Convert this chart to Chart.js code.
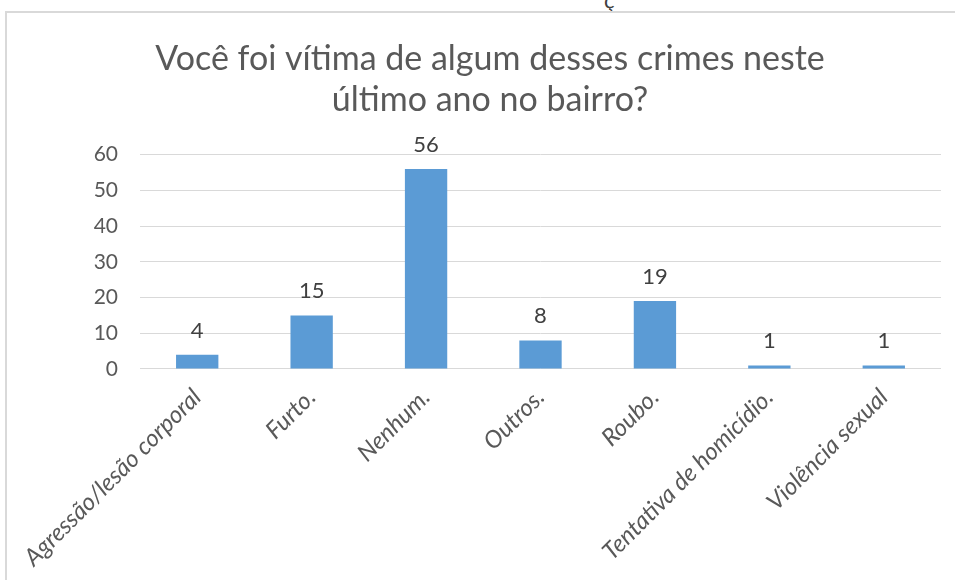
<!DOCTYPE html>
<html>
<head>
<meta charset="utf-8">
<script src="https://cdn.jsdelivr.net/npm/chart.js@4"></script>
<style>
    html, body { margin: 0; padding: 0; background: #fff; overflow: hidden; width: 955px; height: 580px; }
    #frame { position: absolute; left: 5px; top: 11px; width: 975px; height: 600px; border: 2px solid #d9d9d9; box-sizing: border-box; }
    #wrap { position: absolute; left: 7px; top: 13px; width: 970px; height: 567px; }
    #cut { position: absolute; left: 604px; top: -14px; font: 22px Lato, sans-serif; color: #404040; }
</style>
</head>
<body>
<div id="cut">ç</div>
<div id="frame"></div>
<div id="wrap"><canvas id="crimeChart"></canvas></div>
<script>
const categories = ['Agressão/lesão corporal', 'Furto.', 'Nenhum.', 'Outros.', 'Roubo.', 'Tentativa de homicídio.', 'Violência sexual'];
const answers = [4, 15, 56, 8, 19, 1, 1];
const yTicks = [0, 10, 20, 30, 40, 50, 60];

// draws the number above each bar
const barValues = {
    id: 'barValues',
    afterDatasetsDraw(chart) {
        const ctx = chart.ctx;
        const meta = chart.getDatasetMeta(0);
        ctx.save();
        ctx.font = '22px Lato, sans-serif';
        ctx.fillStyle = '#404040';
        ctx.textAlign = 'center';
        ctx.textBaseline = 'alphabetic';
        meta.data.forEach((bar, i) => {
            ctx.fillText(answers[i], bar.x, bar.y - 17);
        });
        ctx.restore();
    }
};

const ctx = document.getElementById('crimeChart').getContext('2d');
const crimeChart = new Chart(ctx, {
    type: 'bar',
    data: {
        labels: categories,
        datasets: [{
            data: answers,
            backgroundColor: '#5b9bd5',
            barPercentage: 0.37,
            categoryPercentage: 1
        }]
    },
    options: {
        responsive: true,
        maintainAspectRatio: false,
        animation: false,
        layout: { padding: { left: 32, right: 36, top: 0, bottom: 2 } },
        plugins: {
            legend: { display: false },
            tooltip: { enabled: false },
            title: {
                display: true,
                text: ['Você foi vítima de algum desses crimes neste', 'último ano no bairro?'],
                color: '#595959',
                font: { family: 'Lato', size: 34, weight: 'normal', lineHeight: 1.2 },
                padding: { top: 26, bottom: 34 }
            }
        },
        scales: {
            x: {
                grid: { display: false },
                border: { display: false },
                ticks: {
                    color: '#595959',
                    font: { family: 'Lato', size: 24, style: 'italic' },
                    minRotation: 45,
                    maxRotation: 45,
                    padding: 6
                }
            },
            y: {
                min: 0,
                max: 60,
                afterBuildTicks(axis) { axis.ticks = yTicks.map(v => ({ value: v })); },
                afterFit(axis) { axis.width = 101; },
                grid: { color: '#d9d9d9', drawTicks: false },
                border: { display: false },
                ticks: {
                    color: '#595959',
                    font: { family: 'Lato', size: 21 },
                    padding: 22
                }
            }
        }
    },
    plugins: [barValues]
});
</script>
</body>
</html>
